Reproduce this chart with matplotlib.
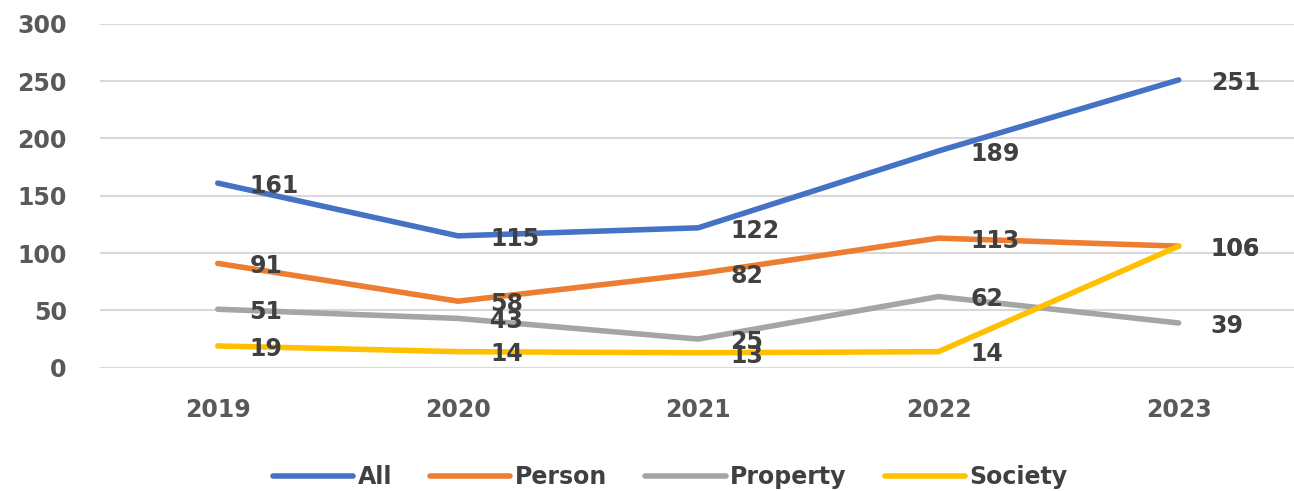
import matplotlib.pyplot as plt

years = ["2019", "2020", "2021", "2022", "2023"]
all_cases = [161, 115, 122, 189, 251]
person = [91, 58, 82, 113, 106]
property_ = [51, 43, 25, 62, 39]
society = [19, 14, 13, 14, 106]

series = [
    ("All", all_cases, "#4472C4"),
    ("Person", person, "#ED7D31"),
    ("Property", property_, "#A5A5A5"),
    ("Society", society, "#FFC000"),
]

plt.rcParams["font.family"] = ["DejaVu Sans"]

fig = plt.figure(figsize=(12.94, 4.91), dpi=100)
ax = fig.add_axes([0.0773, 0.2511, 0.9227, 0.7006])

x = list(range(len(years)))
for name, vals, color in series:
    ax.plot(x, vals, color=color, lw=4, solid_capstyle="round", label=name)
    for xi, v in zip(x, vals):
        ax.annotate(str(v), (xi, v), textcoords="offset points", xytext=(23, -2),
                    ha="left", va="center", fontsize=17, fontweight="bold",
                    color="#404040")

ax.set_xlim(-0.49, 4.48)
ax.set_ylim(0, 300)
ax.set_yticks(range(0, 301, 50))
ax.set_xticks(x)
ax.set_xticklabels(years)
ax.grid(axis="y", color="#D9D9D9", lw=1.5)
ax.set_axisbelow(True)
for s in ax.spines.values():
    s.set_visible(False)
ax.tick_params(length=0, labelsize=17, labelcolor="#595959")
ax.tick_params(axis="y", pad=24)
ax.tick_params(axis="x", pad=22)
for lbl in ax.get_xticklabels() + ax.get_yticklabels():
    lbl.set_fontweight("bold")

leg = fig.legend(loc="center", bbox_to_anchor=(0.518, 0.028), ncol=4, frameon=False,
                 fontsize=17, handlelength=3.4, columnspacing=1.6, handletextpad=0.2)
for t in leg.get_texts():
    t.set_color("#404040")
    t.set_fontweight("bold")

fig.savefig("out.png", dpi=100)
